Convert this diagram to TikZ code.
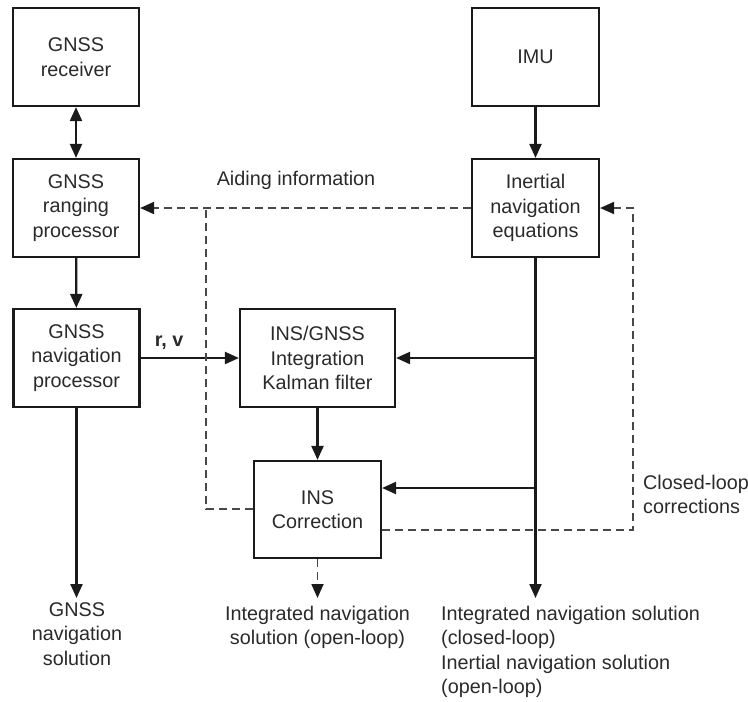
\documentclass[tikz,border=0pt]{standalone}
\usepackage{fontspec}
\setmainfont{Liberation Sans}
\usetikzlibrary{arrows.meta,calc}
\definecolor{linec}{HTML}{1A1A1A}
\definecolor{dashc}{HTML}{484848}
\definecolor{txtc}{HTML}{2A2A2A}
\begin{document}
\begin{tikzpicture}[x=1pt,y=-1pt,
  lbl/.style={text=txtc, font=\fontsize{19.8}{24.5}\selectfont, inner sep=0pt},
  blk/.style={lbl, draw=linec, line width=2.2pt, minimum width=126pt,
    minimum height=98pt, align=center},
  flow/.style={draw=linec, line width=2.2pt, -{Triangle[length=14pt,width=12pt]}},
  link/.style={draw=linec, line width=2.2pt},
  aid/.style={draw=dashc, line width=1.8pt, dash pattern=on 8pt off 5pt},
  aidarrow/.style={aid, -{Triangle[length=14pt,width=12pt,fill=linec,color=linec]}}]

\useasboundingbox (0,0) rectangle (748,702);

% GNSS chain
\node[blk] (rcv) at (76,57) {GNSS\\receiver};
\node[blk] (rng) at (76,208) {GNSS\\ranging\\processor};
\node[blk] (nav) at (76.5,358) {GNSS\\navigation\\processor};

% inertial chain
\node[blk, minimum width=127pt] (imu) at (535.5,57) {IMU};
\node[blk, minimum width=127pt] (ine) at (535.5,208) {Inertial\\navigation\\equations};

% integration
\node[blk, minimum width=155pt] (kf) at (317.5,358) {INS/GNSS\\Integration\\Kalman filter};
\node[blk, minimum width=127pt, minimum height=97pt] (cor) at (317.5,509.5) {INS\\Correction};

% outputs
\node[lbl, align=center] (gsol) at (77,634) {GNSS\\navigation\\solution};
\node[lbl, align=center] (osol) at (317.5,627.5) {Integrated navigation\\solution (open-loop)};
\node[lbl, align=left, anchor=west] (csol) at (441,652) {Integrated navigation solution\\(closed-loop)\\Inertial navigation solution\\(open-loop)};
\node[lbl, align=left, anchor=west] (clc) at (643,494.5) {Closed-loop\\corrections};
\node[lbl] (aidtxt) at (296,180) {Aiding information};

% helper points
\coordinate (gend) at (76.5,598);
\coordinate (oend) at (317.5,598);
\coordinate (iend) at (535.5,598);
\coordinate (jkf) at (535.5,358);
\coordinate (jcor) at (535.5,488);
\coordinate (corin) at (cor.east |- jcor);
\coordinate (corl) at (cor.west |- 0,509);
\coordinate (aidl) at (206,509);
\coordinate (aidj) at (206,208);
\coordinate (corr) at (cor.east |- 0,530);
\coordinate (clr) at (633,530);
\coordinate (clt) at (633,208);

% solid flows
\draw[link, {Triangle[length=14pt,width=12pt]}-{Triangle[length=14pt,width=12pt]}] (rcv) -- (rng);
\draw[flow] (rng) -- (nav);
\draw[flow] (nav.east) -- node[pos=0.29, above=7pt, lbl, font=\fontsize{19.8}{24.5}\selectfont\bfseries] {r, v} (kf.west);
\draw[flow] (imu) -- (ine);
\draw[flow] (ine.south) -- (iend);
\draw[flow] (jkf) -- (kf.east);
\draw[flow] (jcor) -- (corin);
\draw[flow] (kf) -- (cor);
\draw[flow] (nav.south) -- (gend);

% dashed aiding and correction paths
\draw[aidarrow] (ine.west) -- (rng.east);
\draw[aid] (corl) -- (aidl) -- (aidj);
\draw[aidarrow] (corr) -- (clr) -- (clt) -- (ine.east);
\draw[aidarrow] (cor.south) -- (oend);

\end{tikzpicture}
\end{document}
